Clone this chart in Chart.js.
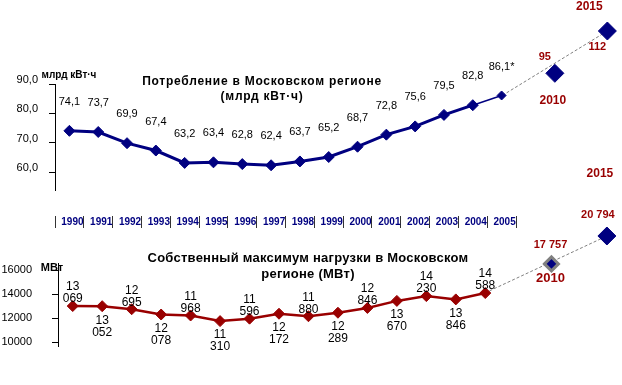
<!DOCTYPE html>
<html>
<head>
<meta charset="utf-8">
<script src="https://cdn.jsdelivr.net/npm/chart.js@4.4.1/dist/chart.umd.min.js"></script>
<style>
  body { margin: 0; background: #fff; }
  #wrap { position: relative; width: 622px; height: 385px; font-family: "Liberation Sans", Arial, sans-serif; }
  #wrap canvas { position: absolute; left: 0; top: 0; }
  .t { position: absolute; transform: translate(-50%, -50%); white-space: nowrap; font-weight: bold; color: #000; }
</style>
</head>
<body>
<div id="wrap">
  <canvas id="consChart" width="622" height="385"></canvas>
  <canvas id="loadChart" width="622" height="385"></canvas>
  <div class="t" style="left:262px;top:81px;font-size:12px;letter-spacing:0.75px">Потребление в Московском регионе</div>
  <div class="t" style="left:262px;top:96px;font-size:12px;letter-spacing:0.75px">(млрд кВт·ч)</div>
  <div class="t" style="left:69px;top:74px;font-size:10px">млрд кВт·ч</div>
  <div class="t" style="left:308px;top:257px;font-size:13px;letter-spacing:0.25px">Собственный максимум нагрузки в Московском</div>
  <div class="t" style="left:308px;top:273px;font-size:13px;letter-spacing:0.25px">регионе (МВт)</div>
  <div class="t" style="left:52px;top:267px;font-size:11px">МВт</div>
</div>
<script>
// ── данные ──────────────────────────────────────────────
const years = ["1990", "1991", "1992", "1993", "1994", "1995", "1996", "1997",
               "1998", "1999", "2000", "2001", "2002", "2003", "2004", "2005"];
const consumption = [74.1, 73.7, 69.9, 67.4, 63.2, 63.4, 62.8, 62.4,
                     63.7, 65.2, 68.7, 72.8, 75.6, 79.5, 82.8, 86.1];
const consumptionTicks = [60, 70, 80, 90];

const loadYears = years.slice(0, 15);
const peakLoad = [13069, 13052, 12695, 12078, 11968, 11310, 11596, 12172,
                  11880, 12289, 12846, 13670, 14230, 13846, 14588];
const loadTicks = [10000, 12000, 14000, 16000];

const forecastYears = [2010, 2015];
const consumptionForecast = [95, 112];
const peakLoadForecast = [17757, 20794];

// ── оформление ──────────────────────────────────────────
const NAVY = "#000080";
const DARK_RED = "#990000";
const GRAY = "#808080";
const FONT = '"Liberation Sans", Arial, sans-serif';

const fmtDec = v => v.toFixed(1).replace(".", ",");
const splitThousands = v => [String(Math.floor(v / 1000)), String(v % 1000).padStart(3, "0")];
const fmtThousands = v => splitThousands(v).join(" ");

function text(ctx, str, x, y, size, color, bold) {
  ctx.save();
  ctx.font = `${bold ? "bold " : ""}${size}px ${FONT}`;
  ctx.fillStyle = color;
  ctx.textAlign = "center";
  ctx.textBaseline = "middle";
  ctx.fillText(str, x, y);
  ctx.restore();
}

// маркеры прогноза лежат вне области графика — рисуем их элементы без обрезки
function drawForecastPoints(chart) {
  chart.getDatasetMeta(1).data.forEach(pt => pt.draw(chart.ctx));
}

// подписи над точками потребления + подписи прогноза
const consLabels = {
  id: "consLabels",
  afterDatasetsDraw(chart) {
    const ctx = chart.ctx;
    drawForecastPoints(chart);
    const last = consumption.length - 1;
    chart.getDatasetMeta(0).data.forEach((p, i) => {
      text(ctx, fmtDec(consumption[i]) + (i === last ? "*" : ""), p.x, p.y - 29, 11, "#000", false);
    });
    const f = chart.getDatasetMeta(1).data;
    text(ctx, String(consumptionForecast[0]), f[0].x - 10, f[0].y - 16, 11, DARK_RED, true);
    text(ctx, String(forecastYears[0]), f[0].x - 2, f[0].y + 27, 12, DARK_RED, true);
    text(ctx, String(consumptionForecast[1]), f[1].x - 10, f[1].y + 16, 11, DARK_RED, true);
    text(ctx, String(forecastYears[1]), f[1].x - 18, f[1].y - 24, 12, DARK_RED, true);
  }
};

// подписи нагрузки (через одну сверху/снизу) + прогноз
const loadLabels = {
  id: "loadLabels",
  afterDatasetsDraw(chart) {
    const ctx = chart.ctx;
    drawForecastPoints(chart);
    chart.getDatasetMeta(0).data.forEach((p, i) => {
      const [a, b] = splitThousands(peakLoad[i]);
      if (i % 2 === 0) {
        text(ctx, a, p.x, p.y - 19, 12, "#000", false);
        text(ctx, b, p.x, p.y - 7, 12, "#000", false);
      } else {
        text(ctx, a, p.x, p.y + 14, 12, "#000", false);
        text(ctx, b, p.x, p.y + 26, 12, "#000", false);
      }
    });
    const f = chart.getDatasetMeta(1).data;
    text(ctx, fmtThousands(peakLoadForecast[0]), f[0].x - 1, f[0].y - 19, 11, DARK_RED, true);
    text(ctx, String(forecastYears[0]), f[0].x - 1, f[0].y + 15, 13, DARK_RED, true);
    text(ctx, fmtThousands(peakLoadForecast[1]), f[1].x - 9, f[1].y - 21, 11, DARK_RED, true);
    text(ctx, String(forecastYears[1]), f[1].x - 7, f[1].y - 62, 12, DARK_RED, true);
  }
};

const common = {
  responsive: false,
  animation: false,
  events: [],
  plugins: { legend: { display: false }, tooltip: { enabled: false } },
};

// ── Потребление ─────────────────────────────────────────
const lastYear = Number(years[years.length - 1]);
new Chart(document.getElementById("consChart"), {
  type: "line",
  data: {
    labels: years,
    datasets: [
      {
        data: consumption,
        xAxisID: "x", yAxisID: "y",
        borderColor: NAVY, backgroundColor: NAVY,
        borderWidth: 3,
        pointStyle: "rectRot",
        pointRadius: ctx => (ctx.dataIndex === consumption.length - 1 ? 4.5 : 5.5),
        pointBorderWidth: 1,
        segment: { borderWidth: ctx => (ctx.p1DataIndex === consumption.length - 1 ? 1.5 : 3) },
        clip: false,
      },
      {
        data: forecastYears.map((yr, i) => ({ x: yr, y: consumptionForecast[i] })),
        xAxisID: "xp", yAxisID: "yp",
        showLine: false,
        pointStyle: "rectRot", pointRadius: 9,
        backgroundColor: NAVY, borderColor: NAVY, pointBorderWidth: 1,
        clip: false,
      },
      {
        data: [
          { x: lastYear, y: consumption[consumption.length - 1] },
          { x: forecastYears[1], y: consumptionForecast[1] },
        ],
        xAxisID: "xp", yAxisID: "yp",
        borderColor: GRAY, borderWidth: 1, borderDash: [3, 2],
        pointRadius: 0,
        clip: false,
      },
    ],
  },
  options: {
    ...common,
    layout: { padding: { top: 84, right: 106, left: 0, bottom: 0 } },
    scales: {
      x: {
        type: "category",
        offset: true,
        border: { display: false },
        grid: {
          display: true, drawOnChartArea: false, offset: true,
          tickLength: 38, tickColor: "#333", tickWidth: 1,
          tickBorderDash: [0, 26, 12, 100],
        },
        ticks: {
          padding: -12, color: NAVY, labelOffset: 3,
          font: { family: FONT, size: 10, weight: "bold" },
          maxRotation: 0, autoSkip: false,
        },
        afterFit: s => { s.height = 195; },
      },
      y: {
        min: 54, max: 90,
        border: { display: true, color: "#000", width: 1 },
        grid: { drawOnChartArea: false, tickLength: 6, tickColor: "#000" },
        afterBuildTicks: s => { s.ticks = consumptionTicks.map(v => ({ value: v })); },
        ticks: {
          padding: 11, color: "#000", labelOffset: -4,
          font: { family: FONT, size: 11 },
          callback: v => fmtDec(v),
        },
        afterFit: s => { s.width = 55; },
      },
      xp: { type: "linear", display: false, min: 1962.4, max: 2006.3 },
      yp: { type: "linear", display: false, min: 48.1, max: 90.7 },
    },
  },
  plugins: [consLabels],
});

// ── Максимум нагрузки ───────────────────────────────────
const lastLoadYear = Number(loadYears[loadYears.length - 1]);
new Chart(document.getElementById("loadChart"), {
  type: "line",
  data: {
    labels: loadYears,
    datasets: [
      {
        data: peakLoad,
        xAxisID: "x", yAxisID: "yd",
        borderColor: DARK_RED, backgroundColor: DARK_RED,
        borderWidth: 2.5,
        pointStyle: "rectRot", pointRadius: 5.5, pointBorderWidth: 1,
        clip: false,
      },
      {
        data: forecastYears.map((yr, i) => ({ x: yr, y: peakLoadForecast[i] })),
        xAxisID: "xp", yAxisID: "yp",
        showLine: false,
        pointStyle: "rectRot",
        pointRadius: [7, 9],
        backgroundColor: NAVY,
        borderColor: [GRAY, NAVY],
        pointBorderWidth: [3, 1],
        clip: false,
      },
      {
        data: [
          { x: lastLoadYear, y: peakLoad[peakLoad.length - 1] },
          { x: forecastYears[1], y: peakLoadForecast[1] },
        ],
        xAxisID: "xp", yAxisID: "yp",
        borderColor: GRAY, borderWidth: 1, borderDash: [3, 2],
        pointRadius: 0,
        clip: false,
      },
    ],
  },
  options: {
    ...common,
    layout: { padding: { top: 263, right: 122, left: 0, bottom: 39 } },
    scales: {
      x: { type: "category", offset: true, display: false },
      y: {
        min: 9700, max: 16600,
        border: { display: true, color: "#000", width: 1 },
        grid: { drawOnChartArea: false, tickLength: 6, tickColor: "#000" },
        afterBuildTicks: s => { s.ticks = loadTicks.map(v => ({ value: v })); },
        ticks: { padding: 20, color: "#000", font: { family: FONT, size: 11 }, callback: v => String(v) },
        afterFit: s => { s.width = 58; },
      },
      yd: { type: "linear", display: false, min: 8400, max: 18100 },
      xp: { type: "linear", display: false, min: 1965.5, max: 2005.36 },
      yp: { type: "linear", display: false, min: 8817, max: 17854 },
    },
  },
  plugins: [loadLabels],
});
</script>
</body>
</html>
